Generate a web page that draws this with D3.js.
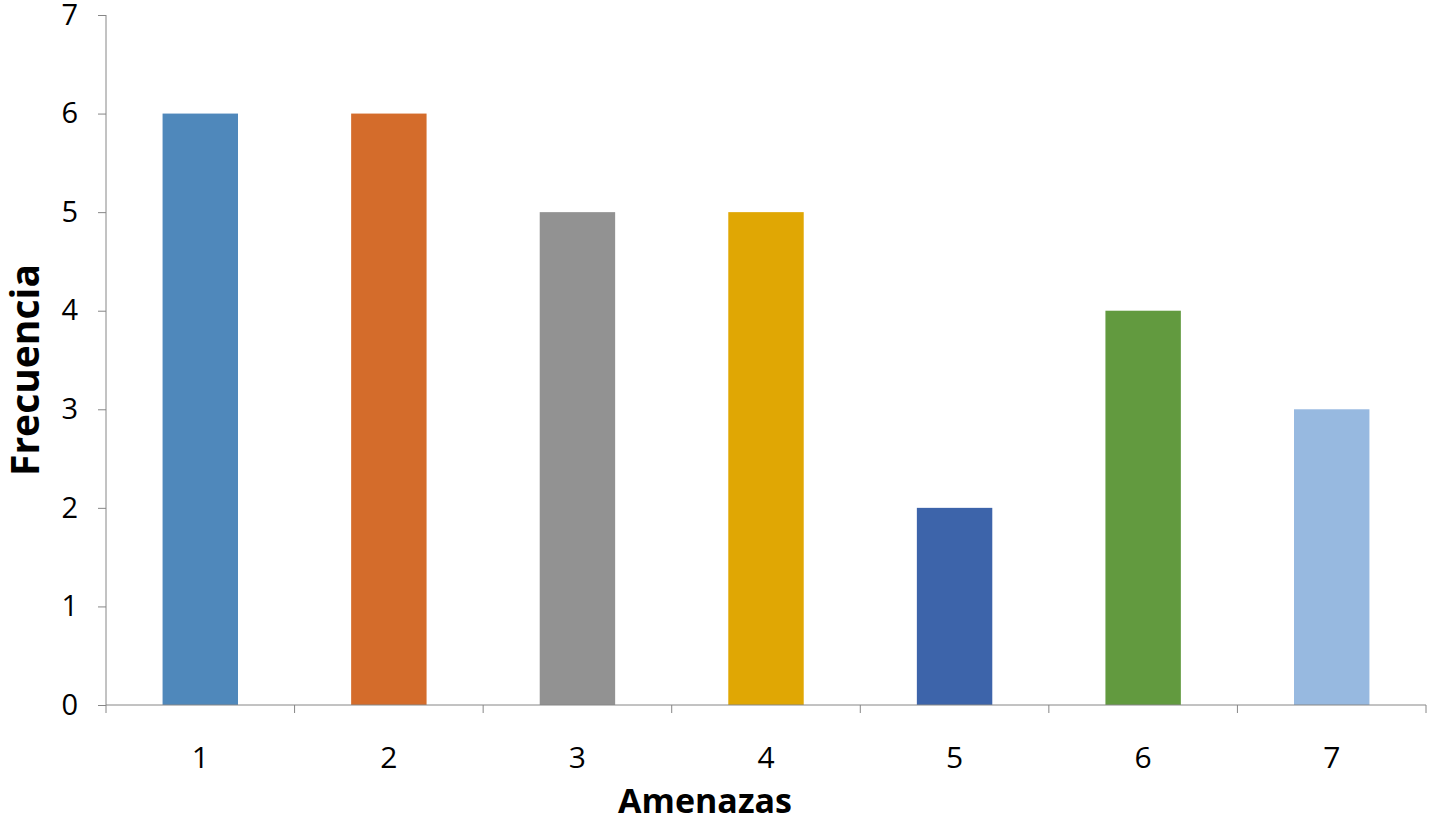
<!DOCTYPE html>
<html>
<head>
<meta charset="utf-8">
<script src="https://cdn.jsdelivr.net/npm/d3@7"></script>
<style>
  body { margin: 0; background: #fff; }
  text { font-family: "Open Sans", "Liberation Sans", sans-serif; }
</style>
</head>
<body>
<svg id="chart" width="1432" height="824"></svg>
<script>
// data
var categories = ["1", "2", "3", "4", "5", "6", "7"];
var values = [6, 6, 5, 5, 2, 4, 3];
var colors = ["#4F88BB", "#D46C2B", "#929292", "#E0A704", "#3D64AA", "#629A3F", "#97B9E0"];
var yTicks = [0, 1, 2, 3, 4, 5, 6, 7];

var margin = {top: 15, right: 6, bottom: 119, left: 106},
    width = 1432 - margin.left - margin.right,
    height = 824 - margin.top - margin.bottom;

var svg = d3.select("#chart")
  .append("g")
    .attr("transform", "translate(" + margin.left + "," + margin.top + ")");

var x = d3.scaleBand()
  .domain(categories)
  .range([0, width])
  .paddingInner(0.6)
  .paddingOuter(0.3);

var y = d3.scaleLinear()
  .domain([0, 7])
  .range([height, 0]);

// bars
svg.selectAll("rect")
  .data(values)
  .enter()
  .append("rect")
    .attr("x", function (d, i) { return x(categories[i]); })
    .attr("y", function (d) { return y(d); })
    .attr("width", x.bandwidth())
    .attr("height", function (d) { return height - y(d); })
    .style("fill", function (d, i) { return colors[i]; });

// Y axis
var yAxis = svg.append("g")
  .call(d3.axisLeft(y).tickValues(yTicks).tickSize(8).tickPadding(20).tickFormat(d3.format("d")));
yAxis.selectAll("text").style("font-size", "29px").style("fill", "#000");
yAxis.selectAll("line,path").attr("stroke", "#868686");
yAxis.select("path").attr("d", "M0," + height + "V0");

// X axis: ticks between categories
var step = width / categories.length;
var xAxis = svg.append("g").attr("transform", "translate(0," + height + ")");
xAxis.append("line").attr("x1", 0).attr("x2", width).attr("stroke", "#868686");
xAxis.selectAll(".tk")
  .data(d3.range(categories.length + 1))
  .enter().append("line")
    .attr("x1", function (d) { return d * step; })
    .attr("x2", function (d) { return d * step; })
    .attr("y1", 0).attr("y2", 8)
    .attr("stroke", "#868686");
xAxis.selectAll(".lbl")
  .data(categories)
  .enter().append("text")
    .attr("x", function (d) { return x(d) + x.bandwidth() / 2; })
    .attr("y", 63)
    .attr("text-anchor", "middle")
    .style("font-size", "30px")
    .text(function (d) { return d; });

// axis titles
svg.append("text")
  .attr("x", 599)
  .attr("y", height + 108)
  .attr("text-anchor", "middle")
  .style("font-size", "34px")
  .style("font-weight", "bold")
  .text("Amenazas");

svg.append("text")
  .attr("transform", "translate(-67," + (370 - margin.top) + ") rotate(-90)")
  .attr("text-anchor", "middle")
  .style("font-size", "39px")
  .style("font-weight", "bold")
  .text("Frecuencia");
</script>
</body>
</html>
